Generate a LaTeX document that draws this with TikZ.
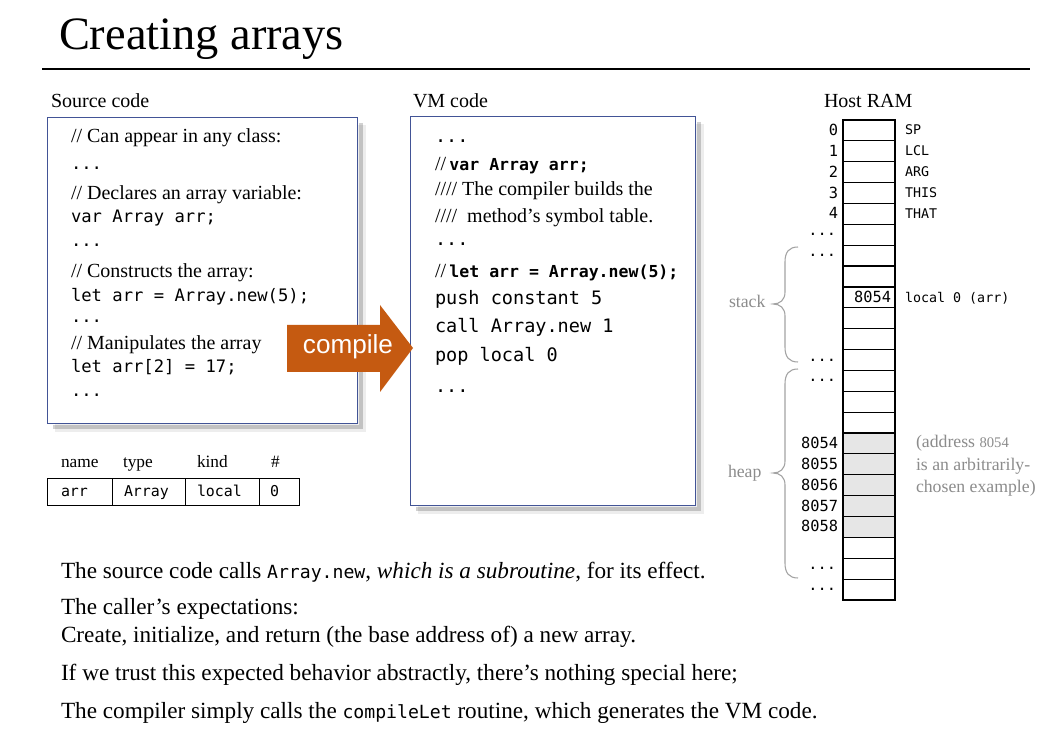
\documentclass[tikz,border=0pt]{standalone}
\usepackage{fontspec}
\setmainfont{Liberation Serif}
\setmonofont{DejaVu Sans Mono}
\newfontfamily\arialfont{Liberation Sans}
\definecolor{boxline}{RGB}{66,84,150}
\definecolor{compileorange}{RGB}{197,90,17}
\definecolor{notegray}{RGB}{140,140,140}
\definecolor{cellgray}{RGB}{230,230,230}
\newcommand\inlinecode[1]{{\fontsize{13.6}{16}\ttfamily #1}}

\begin{document}
\begin{tikzpicture}[x=0.75pt,y=-0.75pt,
  txt/.style={anchor=base west, inner sep=0pt, outer sep=0pt},
  rtxt/.style={anchor=base east, inner sep=0pt, outer sep=0pt},
  label15/.style={txt, font=\fontsize{15}{18}\selectfont},
  cmt/.style={txt, font=\fontsize{15}{18}\selectfont},
  srccode/.style={txt, font=\fontsize{12.9}{15}\ttfamily},
  vmcode/.style={txt, font=\fontsize{13.9}{16}\ttfamily},
  body/.style={txt, font=\fontsize{17.4}{21}\selectfont},
  codebox/.style={draw=boxline, line width=1pt, anchor=north west, inner sep=0pt},
  boxshadow/.style={line width=3pt, black, opacity=0.18},
  cell/.style={draw, line width=0.9pt, minimum width=39pt, minimum height=15.65pt, inner sep=0pt, outer sep=0pt},
  ramnum/.style={rtxt, font=\fontsize{11.5}{13}\ttfamily},
  ramtag/.style={txt, font=\fontsize{10}{12}\ttfamily},
  tabcell/.style={draw, line width=1pt, anchor=north west, minimum height=20.25pt, inner sep=0pt},
  tabhead/.style={txt, font=\fontsize{13}{15}\selectfont},
  tabtext/.style={txt, font=\fontsize{11.2}{13}\ttfamily},
  graynote/.style={txt, text=notegray, font=\fontsize{13.3}{16}\selectfont},
  bracestyle/.style={draw=notegray!80, line width=0.8pt}
]
\fill[white] (0,0) rectangle (1054,734);
\useasboundingbox (0,0) rectangle (1054,734);

% title and rule
\node[txt, font=\fontsize{34.8}{40}\selectfont] (title) at (59,50) {Creating arrays};
\coordinate (ruleL) at (42,69);
\coordinate (ruleR) at (1030,69);
\draw[line width=1.6pt] (ruleL) -- (ruleR);

% panel headings
\node[label15] (srchead) at (51,108) {Source code};
\node[label15] (vmhead) at (413,108) {VM code};
\node[label15] (ramhead) at (824,108) {Host RAM};

% code boxes with their soft shadows
\node[codebox, minimum width=232.5pt, minimum height=229.5pt] (srcbox) at (47,117) {};
\node[codebox, minimum width=213.75pt, minimum height=291.75pt] (vmbox) at (410,116) {};
\foreach \b in {srcbox,vmbox}{
  \draw[boxshadow] ([shift={(3,6)}]\b.north east) -- ([shift={(3,3)}]\b.south east) -- ([shift={(6,3)}]\b.south west);
  \draw[boxshadow, line width=6pt, opacity=0.07] ([shift={(4,8)}]\b.north east) -- ([shift={(4,4)}]\b.south east) -- ([shift={(8,4)}]\b.south west);
}

% source code
\node[cmt] (s1) at (71,143) {// Can appear in any class:};
\node[srccode] (s2) at (71,170) {...};
\node[cmt] (s3) at (71,200) {// Declares an array variable:};
\node[srccode] (s4) at (71,223) {var Array arr;};
\node[srccode] (s5) at (71,247) {...};
\node[cmt] (s6) at (71,278) {// Constructs the array:};
\node[srccode] (s7) at (71,302) {let arr = Array.new(5);};
\node[srccode] (s8) at (71,323) {...};
\node[cmt] (s9) at (71,350) {// Manipulates the array};
\node[srccode] (s10) at (71,373) {let arr[2] = 17;};
\node[srccode] (s11) at (71,397) {...};

% VM code
\node[vmcode] (v1) at (435,143) {...};
\node[txt] (v2) at (435,171) {{\fontsize{15}{18}\selectfont //\,}{\fontsize{12.4}{16}\ttfamily\bfseries var Array arr;}};
\node[cmt] (v3) at (435,196) {//// The compiler builds the};
\node[cmt] (v4) at (435,223) {////~~method’s symbol table.};
\node[vmcode] (v5) at (435,246) {...};
\node[txt] (v6) at (435,278) {{\fontsize{15}{18}\selectfont //\,}{\fontsize{12.4}{16}\ttfamily\bfseries let arr = Array.new(5);}};
\node[vmcode] (v7) at (435,305) {push constant 5};
\node[vmcode] (v8) at (435,333) {call Array.new 1};
\node[vmcode] (v9) at (435,362) {pop local 0};
\node[vmcode] (v10) at (435,393) {...};

% compile arrow, over the source box edge
\fill[compileorange] (287,325) -- (380,325) -- (380,305) -- (413,348) -- (380,392) -- (380,372) -- (287,372) -- cycle;
\node[anchor=base, inner sep=0pt, text=white, font=\fontsize{19.6}{22}\arialfont] (compilelbl) at (348,354) {compile};

% symbol table
\node[tabhead] (hname) at (61,468) {name};
\node[tabhead] (htype) at (123,468) {type};
\node[tabhead] (hkind) at (197,468) {kind};
\node[tabhead] (hnum) at (271,468) {\#};
\node[tabcell, minimum width=48.75pt] (tname) at (47,478) {};
\node[tabcell, minimum width=54.75pt] (ttype) at (112,478) {};
\node[tabcell, minimum width=55.5pt] (tkind) at (185,478) {};
\node[tabcell, minimum width=30pt] (tnum) at (259,478) {};
\node[tabtext] (vname) at (61,496) {arr};
\node[tabtext] (vtype) at (124,496) {Array};
\node[tabtext] (vkind) at (197,496) {local};
\node[tabtext] (vnum) at (270,496) {0};

% host RAM cells
\foreach \i in {0,...,22}{
  \ifnum\i>14 \ifnum\i<20 \def\cellfill{cellgray}\else\def\cellfill{white}\fi\else\def\cellfill{white}\fi
  \node[cell, fill=\cellfill] (cell\i) at (869,{130.4+20.87*\i}) {};
}
\foreach \r/\t in {0/0,1/1,2/2,3/3,4/4,15/8054,16/8055,17/8056,18/8057,19/8058}{
  \node[ramnum] (addr\r) at (838,{135.4+20.87*\r}) {\t};
}
\foreach \r in {5,6,11,12,21,22}{
  \node[ramnum] (dots\r) at (836,{131.5+20.87*\r}) {...};
}
\foreach \r/\t in {0/SP,1/LCL,2/ARG,3/THIS,4/THAT}{
  \node[ramtag] (tag\r) at (905,{135+20.87*\r}) {\t};
}
\node[ramnum] (val8) at (891,303) {8054};
\node[ramtag] (tag8) at (905,303) {local~0 (arr)};

% stack and heap braces
\draw[bracestyle] (798,247) .. controls (789,247) and (785,252) .. (785,262) -- (785,292)
  .. controls (785,300) and (780,304) .. (773,304) .. controls (780,304) and (785,308) .. (785,316)
  -- (785,347) .. controls (785,357) and (789,362) .. (798,362);
\draw[bracestyle] (798,369) .. controls (789,369) and (785,374) .. (785,384) -- (785,461)
  .. controls (785,469) and (780,473) .. (773,473) .. controls (780,473) and (785,477) .. (785,485)
  -- (785,563) .. controls (785,573) and (789,578) .. (798,578);
\node[graynote] (stacklbl) at (729,308) {stack};
\node[graynote] (heaplbl) at (728,477) {heap};
\node[graynote] (note1) at (916,448) {(address {\fontsize{11}{13}\selectfont 8054}};
\node[graynote] (note2) at (916,470) {is an arbitrarily-};
\node[graynote] (note3) at (916,492) {chosen example)};

% explanatory text
\node[body] (b1) at (61,578) {The source code calls \inlinecode{Array.new}, \textit{which is a subroutine}, for its effect.};
\node[body] (b2) at (61,614) {The caller’s expectations:};
\node[body] (b3) at (61,642) {Create, initialize, and return (the base address of) a new array.};
\node[body] (b4) at (61,680) {If we trust this expected behavior abstractly, there’s nothing special here;};
\node[body] (b5) at (61,718) {The compiler simply calls the \inlinecode{compileLet} routine, which generates the VM code.};
\end{tikzpicture}
\end{document}
